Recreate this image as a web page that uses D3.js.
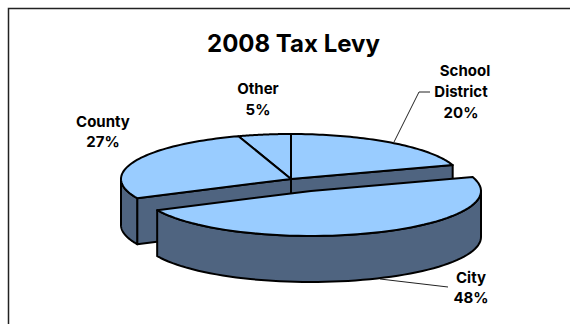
<!DOCTYPE html>
<html>
<head>
<meta charset="utf-8">
<script src="https://cdn.jsdelivr.net/npm/d3@7"></script>
<style>
  html, body { margin: 0; padding: 0; background: #fff; }
  svg { display: block; }
  text { font-family: Inter, "DejaVu Sans", sans-serif; font-weight: 700; fill: #000; text-anchor: middle; }
</style>
</head>
<body>
<svg id="chart" width="570" height="324"></svg>
<script>
// Share of the 2008 tax levy, clockwise from twelve o'clock.
const categories = ["School District", "City", "County", "Other"];
const shares = [20, 48, 27, 5];
const labelLines = [["School", "District", "20%"], ["City", "48%"], ["County", "27%"], ["Other", "5%"]];
const labelX = [[465, 461, 461], [471, 471], [103, 103], [258, 258]];
const labelBaselines = [[76, 97, 118], [283, 303], [127, 147], [94, 115]];
const title = "2008 Tax Levy";

const topColor = "#99ccff";
const sideColor = "#4f6480";
const rx = 170, ry = 45, depth = 46;
const center = [291, 179];
const explodeOffsets = [[0, 0], [20, 12], [0, 0], [0, 0]];

const svg = d3.select("#chart");

// Chart frame, running off the right and bottom of the page
svg.append("rect").attr("x", 8.5).attr("y", 8.5).attr("width", 600).attr("height", 400)
  .attr("fill", "#fff").attr("stroke", "#222").attr("stroke-width", 1.5);

svg.append("text").attr("x", 293.5).attr("y", 52).attr("font-size", 24).text(title);

const arcs = d3.pie().sort(null)(shares);
const tilt = d3.scaleLinear().domain([0, 1]).range([0, ry / rx]);
const ring = (a, c) => [c[0] + rx * Math.sin(a), c[1] - rx * tilt(1) * Math.cos(a)];
const curve = (a0, a1, c) => d3.range(0, 61).map(i => ring(a0 + (a1 - a0) * i / 60, c));
const line = d3.line();
const drop = p => [p[0], p[1] + depth];
const outline = { stroke: "#000", "stroke-width": 2, "stroke-linejoin": "round" };

function shape(points, fill) {
  const p = svg.append("path").attr("d", line(points) + "Z").attr("fill", fill);
  Object.entries(outline).forEach(([k, v]) => p.attr(k, v));
  return p;
}

// Extruded wall below a run of top-face points
function wall(points) {
  shape(points.concat(points.map(drop).reverse()), sideColor);
}

function centerOf(i) {
  return [center[0] + explodeOffsets[i][0], center[1] + explodeOffsets[i][1]];
}

// Walls of the seated slices first, then their tops, then the pulled-out slice.
const seated = [3, 2, 0];
seated.forEach(i => {
  const d = arcs[i], c = centerOf(i);
  if (i === 2) {
    wall([c, ring(d.startAngle, c)]);
    wall(curve(d.startAngle, 1.5 * Math.PI, c));
  }
  if (i === 0) wall([c, ring(d.endAngle, c)]);
});
seated.forEach(i => {
  const d = arcs[i], c = centerOf(i);
  shape([c].concat(curve(d.startAngle, d.endAngle, c)), topColor);
});

{
  const d = arcs[1], c = centerOf(1);
  wall(curve(Math.PI / 2, d.endAngle, c));
  shape([c].concat(curve(d.startAngle, d.endAngle, c)), topColor);
}

// Leader lines from the slices to their labels
const leaders = [[[394, 142], [419, 92], [430, 92]], [[380, 279], [448, 287]]];
leaders.forEach(pts => {
  svg.append("path").attr("d", line(pts)).attr("fill", "none").attr("stroke", "#222").attr("stroke-width", 1);
});

labelLines.forEach((lines, i) => {
  const t = svg.append("text").attr("font-size", 15);
  lines.forEach((s, j) => {
    t.append("tspan").attr("x", labelX[i][j]).attr("y", labelBaselines[i][j]).text(s);
  });
});
</script>
</body>
</html>
